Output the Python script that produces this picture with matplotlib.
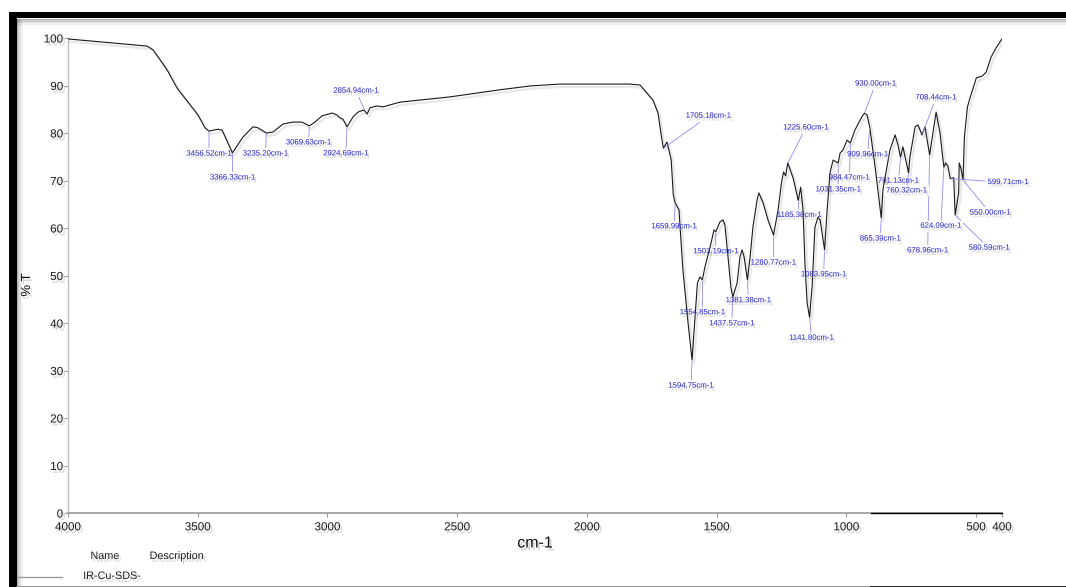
import matplotlib
matplotlib.use("Agg")
import matplotlib.pyplot as plt
from matplotlib import patheffects as pe
from matplotlib import font_manager
from matplotlib.patches import Rectangle
from matplotlib.lines import Line2D

# ---- IR spectrum of sample IR-Cu-SDS- : wavenumber (cm-1) vs transmittance (%T)
wavenumber = [
    4000, 3877, 3695, 3672, 3618, 3580, 3530, 3499, 3472, 3456.52,
    3422, 3406, 3366.33, 3325, 3287, 3268, 3235.20, 3210, 3171, 3133,
    3098, 3069.63, 3048, 3021, 2982, 2963, 2952, 2940, 2924.69, 2901,
    2882, 2863, 2854.94, 2847, 2836, 2809, 2786, 2720, 2528, 2335,
    2219, 2104, 1949, 1834, 1795, 1745, 1726, 1712, 1705.18, 1691,
    1675, 1667, 1659.99, 1645, 1630, 1610, 1594.75, 1583, 1574, 1564,
    1554.85, 1545, 1525, 1510, 1503.19, 1487, 1475, 1468, 1456, 1445,
    1437.57, 1421, 1410, 1402, 1394, 1381.38, 1371, 1360, 1344, 1337,
    1321, 1302, 1280.77, 1263, 1250, 1242, 1234, 1225.60, 1205, 1185.38,
    1176, 1167, 1159, 1151, 1141.80, 1132, 1121, 1109, 1101, 1083.95,
    1074, 1063, 1051, 1031.35, 1024, 1013, 997, 984.47, 967, 940,
    930.00, 920, 909.96, 889, 865.39, 859, 832, 812, 801, 791.13,
    782, 760.32, 755, 735, 724, 708.44, 697, 678.96, 654, 639,
    624.09, 617, 609, 599.71, 586, 580.59, 567, 565, 558, 550.00,
    545, 533, 526, 499, 476, 461, 442, 423, 400,
]
transmittance = [
    99.8, 99.2, 98.3, 97.5, 93.3, 89.5, 86.0, 83.8, 81.1, 80.4,
    80.8, 80.6, 75.8, 79.2, 81.3, 81.1, 80.0, 80.2, 81.9, 82.3,
    82.3, 81.5, 82.3, 83.6, 84.2, 83.8, 83.2, 82.9, 81.3, 83.4,
    84.4, 84.8, 84.6, 84.0, 85.3, 85.7, 85.5, 86.5, 87.6, 89.1,
    89.9, 90.3, 90.3, 90.3, 90.1, 86.9, 84.2, 79.0, 76.8, 78.1,
    74.3, 67.0, 65.3, 63.8, 51.2, 40.0, 32.2, 41.3, 48.4, 49.7,
    49.1, 51.8, 56.0, 59.6, 59.2, 61.3, 61.7, 60.6, 53.9, 47.5,
    45.5, 48.4, 53.9, 55.4, 53.9, 49.1, 53.9, 60.2, 65.9, 67.4,
    65.3, 61.7, 58.5, 63.8, 69.5, 71.8, 71.0, 73.7, 70.5, 65.8,
    68.6, 63.8, 51.8, 44.2, 41.2, 47.6, 60.2, 62.3, 61.7, 55.4,
    63.8, 71.6, 74.3, 73.7, 75.8, 76.4, 78.5, 77.9, 80.6, 83.4,
    84.2, 83.8, 81.3, 72.8, 62.1, 68.0, 76.4, 79.6, 77.5, 74.9,
    77.1, 71.6, 74.9, 81.3, 81.7, 79.6, 81.3, 75.4, 84.4, 80.0,
    72.8, 73.7, 73.1, 70.4, 70.6, 62.7, 67.4, 73.7, 72.5, 70.1,
    79.2, 85.5, 86.9, 91.6, 92.0, 92.8, 96.0, 97.9, 99.8,
]

# ---- labelled bands (cm-1) and their transmittance
band_wn = [
    3456.52, 3366.33, 3235.20, 3069.63, 2924.69, 2854.94,
    1705.18, 1659.99, 1594.75, 1554.85, 1503.19, 1437.57, 1381.38,
    1280.77, 1225.60, 1185.38, 1141.80, 1083.95, 1031.35, 984.47,
    930.00, 909.96, 865.39, 791.13, 760.32, 708.44, 678.96, 624.09,
    599.71, 580.59, 550.00,
]
band_T = [
    80.4, 75.8, 80.0, 81.5, 81.3, 84.6,
    76.8, 65.3, 32.2, 49.1, 59.2, 45.5, 49.1,
    58.5, 73.7, 65.8, 41.2, 55.4, 73.7, 77.9,
    84.2, 81.3, 62.1, 74.9, 71.6, 79.6, 75.4, 72.8,
    70.4, 62.7, 70.1,
]

x_ticks = [4000, 3500, 3000, 2500, 2000, 1500, 1000, 500, 400]
y_ticks = [0, 10, 20, 30, 40, 50, 60, 70, 80, 90, 100]

# label placement: offset of each label centre from its band, in pixels
label_offsets = [
    (0, -23), (0, -25), (-1, -21), (-1, -17), (-1, -27), (-9, 20),
    (45, 32), (-1, -24), (-1, -26), (0, -33), (0, -20), (-1, -27), (1, -21),
    (0, -28), (18, 35), (1, -15), (2, -21), (-1, -25), (0, -27), (-1, -35),
    (11, 29), (-2, -28), (-1, -21), (-2, -24), (-2, -18), (14, 37), (-2, -96),
    (-3, -59), (58, -4), (34, -33), (27, -33),
]
white_box_labels = {760.32, 624.09}

# ---- fonts
installed = {f.name for f in font_manager.fontManager.ttflist}
if "Liberation Sans Narrow" in installed:
    band_font, band_size = "Liberation Sans Narrow", 7.0
else:
    band_font, band_size = "Liberation Sans", 5.6
base_font = "Liberation Sans" if "Liberation Sans" in installed else "DejaVu Sans"
plt.rcParams["font.family"] = [base_font, "DejaVu Sans"]

W, H = 1066, 587
fig = plt.figure(figsize=(W / 100, H / 100), dpi=100)
fig.patch.set_facecolor("white")

ax = fig.add_axes([68 / W, (H - 513) / H, (1002 - 68) / W, (513 - 38) / H])
ax.set_xlim(4000, 400)
ax.set_ylim(0, 100)
ax.set_facecolor("none")

shadow_txt = [pe.SimplePatchShadow(offset=(1.5, -2), shadow_rgbFace="#9a9a9a", alpha=0.45), pe.Normal()]

ax.plot(wavenumber, transmittance, color="#1a1a1a", lw=0.8, zorder=5,
        path_effects=[pe.SimpleLineShadow(offset=(1.5, -2), shadow_color="#999999", alpha=0.22, linewidth=1.6),
                      pe.Normal()])

for i, (wn, t, (dx, dy)) in enumerate(zip(band_wn, band_T, label_offsets)):
    boxed = wn in white_box_labels
    ax.annotate(
        f"{wn:.2f}cm-1", xy=(wn, t), xytext=(dx, dy), textcoords="offset pixels",
        ha="center", va="center", fontsize=band_size, family=[band_font, "DejaVu Sans"],
        color="#2424d4", zorder=7 + (3 if boxed else 0),
        bbox=dict(boxstyle="square,pad=0.25", fc="white", ec="none") if boxed else None,
        arrowprops=dict(arrowstyle="-", color="#8c8cf2", lw=0.6, shrinkA=0, shrinkB=1),
        path_effects=shadow_txt,
    )

for side in ("top", "right"):
    ax.spines[side].set_visible(False)
ax.spines["left"].set_color("#bdbdbd")
ax.spines["left"].set_linewidth(1.0)
ax.spines["bottom"].set_color("#9a9a9a")
ax.spines["bottom"].set_linewidth(1.2)

ax.set_xticks(x_ticks)
ax.set_xticklabels([str(v) for v in x_ticks])
ax.set_yticks(y_ticks)
ax.set_yticklabels([str(v) for v in y_ticks])
ax.tick_params(axis="both", direction="out", length=3, width=0.8, color="#9a9a9a",
               labelsize=8.4, labelcolor="#1a1a1a")
ax.tick_params(axis="y", pad=0.5)
ax.tick_params(axis="x", pad=3)
for lab in ax.get_xticklabels() + ax.get_yticklabels():
    lab.set_path_effects(shadow_txt)

# darker right-hand part of the baseline
fig.add_artist(Line2D([871 / W, 1002 / W], [(H - 513) / H] * 2, color="black", lw=1.0, zorder=6))

# axis titles
fig.text(535 / W, 1 - 543 / H, "cm-1", ha="center", va="center", fontsize=11.5,
         color="#111111", path_effects=shadow_txt)
fig.text(27 / W, 1 - 285 / H, "% T", ha="center", va="center", rotation=90, fontsize=9.5,
         color="#111111", path_effects=shadow_txt)

# sample table beneath the plot
fig.text(105 / W, 1 - 556 / H, "Name", ha="center", va="center", fontsize=7.8, color="#222222",
         path_effects=shadow_txt)
fig.text(177 / W, 1 - 556 / H, "Description", ha="center", va="center", fontsize=7.8,
         color="#222222", path_effects=shadow_txt)
fig.text(112 / W, 1 - 576 / H, "IR-Cu-SDS-", ha="center", va="center", fontsize=7.8,
         color="#222222", path_effects=shadow_txt)
fig.add_artist(Line2D([17 / W, 62 / W], [1 - 577 / H] * 2, color="#9a9a9a", lw=1.0))

# window frame: thick black top and left bars with a soft shadow
for k, a in enumerate([0.30, 0.20, 0.12, 0.06, 0.03]):
    fig.add_artist(Rectangle((17 / W, (H - 19 - k * 1.4 - 1.4) / H), (W - 17) / W, 1.4 / H,
                             transform=fig.transFigure, color="black", alpha=a, lw=0, zorder=1))
    fig.add_artist(Rectangle(((17 + k * 1.2) / W, 0), 1.2 / W, (H - 19) / H,
                             transform=fig.transFigure, color="black", alpha=a, lw=0, zorder=1))
fig.add_artist(Rectangle((9 / W, (H - 18) / H), (W - 9) / W, 6.5 / H,
                         transform=fig.transFigure, color="black", lw=0, zorder=20))
fig.add_artist(Rectangle((9 / W, 0), 8 / W, (H - 12) / H,
                         transform=fig.transFigure, color="black", lw=0, zorder=20))
fig.add_artist(Line2D([17 / W, 871 / W], [0.5 / H] * 2, color="#8a8a8a", lw=1.2, zorder=20))
fig.add_artist(Line2D([871 / W, 1], [0.5 / H] * 2, color="black", lw=1.2, zorder=20))

fig.savefig("out.png", dpi=100)
